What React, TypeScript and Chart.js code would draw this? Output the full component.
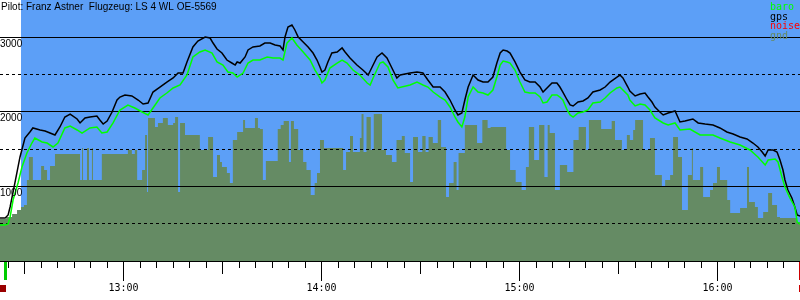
import React, { useEffect, useRef } from 'react';
import { Chart, registerables } from 'chart.js';

Chart.register(...registerables);

// ---- texts ----
const pilotTitle = 'Pilot: Franz Astner  Flugzeug: LS 4 WL OE-5569';
const seriesNames = ['baro', 'gps', 'noise', 'gnd'];
const seriesColors = ['#00ff00', '#000000', '#ff0000', '#658b64'];
const skyColor = '#5c9ff7';

// ---- time axis (minutes since midnight) ----
const timeMin = 742.64;
const timeMax = 985.06;
const tickStepMinutes = 5;
const skyStart = 749.0;
const takeoffTime = 744.3;
const landingTime = 985.0;
const startMarkTime = 743.5;

// ---- altitude axis (m) ----
const altMin = 0;
const altMax = 3500;
const gridLevels = [500, 1000, 1500, 2000, 2500, 3000];
const altLabels = [1000, 2000, 3000];

// ---- gps altitude ----
const gpsTimes = [
  742.6, 744.2, 745.1, 745.7, 747.2, 748.7, 750.2, 751.7, 752.6, 754.8,
  756.3, 757.8, 759.3, 760.8, 762.3, 763.9, 766.0, 766.9, 768.4, 769.9,
  772.0, 772.9, 773.9, 775.1, 776.6, 778.1, 779.0, 780.5, 782.6, 784.5,
  786.0, 787.5, 789.0, 791.1, 793.2, 795.1, 796.6, 798.1, 799.3, 801.1,
  802.6, 804.8, 806.3, 807.2, 808.4, 809.9, 811.4, 812.9, 813.9, 814.5,
  815.4, 816.9, 817.8, 819.3, 821.4, 822.9, 824.5, 826.0, 827.5, 828.4,
  829.0, 829.9, 831.1, 832.0, 833.0, 834.5, 836.0, 837.5, 838.7, 839.6,
  840.2, 841.1, 842.0, 843.2, 844.8, 846.3, 847.2, 848.7, 850.8, 852.6,
  854.2, 855.4, 856.9, 858.4, 859.9, 861.4, 862.9, 863.9, 866.9, 869.0,
  870.8, 872.3, 873.9, 876.0, 877.5, 879.0, 880.5, 881.4, 882.6, 883.5,
  884.5, 886.0, 887.5, 889.0, 890.5, 892.0, 893.2, 894.2, 895.1, 896.3,
  897.2, 898.7, 900.2, 901.7, 903.2, 904.8, 906.3, 907.2, 908.4, 909.9,
  911.4, 912.3, 913.2, 914.5, 915.4, 916.3, 917.8, 919.3, 920.8, 922.3,
  924.5, 926.0, 927.5, 929.6, 930.5, 931.4, 932.9, 933.5, 935.1, 936.6,
  938.1, 939.0, 940.2, 941.1, 942.6, 943.6, 945.1, 947.2, 948.7, 950.2,
  952.6, 954.2, 956.3, 958.7, 960.8, 962.9, 964.8, 966.9, 969.0, 970.8,
  972.3, 973.6, 974.5, 975.4, 976.9, 978.1, 979.0, 979.9, 980.5, 981.4,
  982.6, 983.5, 984.2, 985.1,
];
const gpsAlt = [
  577, 577, 617, 724, 1059, 1395, 1649, 1730, 1784, 1757,
  1743, 1716, 1690, 1797, 1931, 1971, 1904, 1851, 1918, 1931,
  1944, 1891, 1837, 1877, 1998, 2159, 2199, 2226, 2213, 2159,
  2105, 2119, 2266, 2333, 2400, 2454, 2521, 2521, 2669, 2870,
  2950, 3004, 2990, 2923, 2843, 2789, 2695, 2655, 2628, 2669,
  2655, 2736, 2830, 2870, 2883, 2923, 2923, 2897, 2883, 2830,
  3004, 3138, 3165, 3098, 3004, 2937, 2870, 2789, 2695, 2602,
  2534, 2561, 2669, 2789, 2803, 2857, 2803, 2722, 2628, 2561,
  2494, 2602, 2736, 2789, 2722, 2588, 2454, 2494, 2521, 2534,
  2521, 2427, 2333, 2333, 2266, 2159, 2025, 1958, 1985, 2159,
  2333, 2494, 2427, 2400, 2400, 2467, 2655, 2789, 2830, 2816,
  2789, 2669, 2534, 2427, 2400, 2400, 2333, 2266, 2320, 2387,
  2387, 2333, 2266, 2159, 2092, 2079, 2132, 2146, 2186, 2266,
  2293, 2333, 2400, 2467, 2494, 2454, 2333, 2280, 2213, 2239,
  2253, 2199, 2132, 2065, 1998, 1958, 1985, 2012, 1864, 1877,
  1904, 1851, 1837, 1824, 1784, 1730, 1703, 1663, 1636, 1582,
  1529, 1462, 1408, 1489, 1489, 1462, 1354, 1220, 1086, 952,
  845, 724, 617, 603,
];

// ---- barometric altitude ----
const baroTimes = [
  742.6, 744.2, 745.1, 745.7, 746.6, 748.1, 749.3, 750.8, 752.3, 753.2,
  755.4, 756.9, 758.7, 760.2, 762.3, 763.9, 766.0, 767.5, 769.9, 772.0,
  773.5, 775.1, 776.9, 779.0, 781.4, 783.5, 785.7, 787.5, 789.0, 791.1,
  793.2, 795.1, 797.2, 799.3, 801.1, 803.2, 804.8, 806.9, 808.4, 810.2,
  811.7, 813.2, 814.5, 816.3, 817.8, 819.3, 821.4, 823.6, 825.4, 827.5,
  828.4, 829.6, 831.1, 832.6, 834.5, 836.6, 838.1, 839.6, 840.2, 841.1,
  842.6, 844.8, 846.3, 847.8, 849.6, 851.7, 853.9, 854.8, 855.7, 857.8,
  858.7, 860.2, 861.7, 863.2, 866.9, 869.0, 870.8, 872.3, 873.9, 876.0,
  877.5, 879.0, 880.5, 881.4, 882.6, 883.5, 884.5, 886.0, 887.5, 889.0,
  890.5, 892.0, 893.2, 894.2, 895.1, 896.3, 897.2, 898.7, 900.2, 901.7,
  903.2, 904.8, 906.3, 907.2, 908.4, 909.9, 911.4, 912.3, 913.2, 914.5,
  915.4, 916.3, 917.8, 919.3, 920.8, 922.3, 924.5, 926.0, 927.5, 929.6,
  930.5, 931.4, 932.9, 933.5, 935.1, 936.6, 938.1, 939.6, 941.1, 943.6,
  945.1, 947.2, 948.7, 951.7, 954.8, 958.7, 960.8, 963.9, 966.9, 969.9,
  972.3, 974.5, 975.4, 977.5, 978.4, 979.6, 980.5, 982.0, 983.5, 984.2,
  985.1,
];
const baroAlt = [
  483, 483, 496, 590, 818, 1046, 1261, 1448, 1582, 1649,
  1596, 1582, 1529, 1582, 1784, 1810, 1757, 1716, 1784, 1797,
  1716, 1730, 1851, 2025, 2092, 2052, 1998, 1958, 2052, 2186,
  2253, 2320, 2360, 2494, 2736, 2803, 2830, 2789, 2669, 2628,
  2534, 2521, 2467, 2521, 2655, 2695, 2695, 2736, 2722, 2722,
  2695, 2923, 2990, 2897, 2803, 2695, 2561, 2454, 2387, 2427,
  2588, 2655, 2695, 2655, 2561, 2494, 2387, 2360, 2454, 2655,
  2669, 2602, 2427, 2320, 2360, 2400, 2360, 2333, 2266, 2199,
  2159, 2065, 1931, 1864, 1797, 1931, 2199, 2333, 2266, 2253,
  2226, 2293, 2467, 2628, 2682, 2669, 2655, 2561, 2400, 2266,
  2253, 2253, 2199, 2119, 2132, 2226, 2226, 2199, 2159, 2025,
  1958, 1931, 1985, 1998, 2025, 2119, 2132, 2186, 2253, 2320,
  2333, 2293, 2226, 2159, 2079, 2105, 2092, 2025, 1918, 1851,
  1824, 1851, 1757, 1770, 1690, 1690, 1649, 1596, 1556, 1489,
  1395, 1287, 1354, 1368, 1328, 1126, 992, 845, 724, 523,
  496,
];

// ---- engine noise (no samples above zero in this flight) ----
const noiseTimes: number[] = [];
const noiseLevel: number[] = [];

// ---- terrain elevation under the track (step values) ----
const gndTimes = [
  742.6, 744.5, 746.3, 747.8, 749.0, 749.9, 750.8, 751.4, 752.6, 755.1,
  756.0, 756.9, 757.8, 759.3, 766.9, 767.5, 767.8, 769.0, 769.6, 770.5,
  770.8, 773.5, 781.4, 782.6, 783.5, 784.2, 785.7, 786.6, 787.2, 787.5,
  789.6, 790.5, 792.0, 793.5, 795.1, 795.7, 796.6, 797.2, 798.7, 803.2,
  805.7, 807.2, 808.4, 809.3, 809.9, 811.4, 812.3, 813.2, 814.5, 816.3,
  816.9, 819.9, 820.8, 821.4, 822.3, 823.2, 826.8, 827.7, 828.6, 830.2,
  830.8, 831.7, 833.0, 834.5, 835.5, 836.8, 838.0, 838.7, 839.6, 840.8,
  846.6, 847.5, 848.7, 849.6, 851.7, 852.2, 852.8, 853.7, 855.0, 855.9,
  858.4, 859.6, 861.4, 862.8, 864.4, 865.3, 866.9, 867.8, 869.3, 870.6,
  871.6, 872.5, 873.8, 875.3, 876.3, 877.8, 878.7, 880.1, 881.0, 881.6,
  883.5, 887.2, 888.8, 890.4, 891.3, 896.0, 897.2, 898.9, 900.7, 902.0,
  902.9, 904.5, 906.0, 907.6, 908.6, 909.2, 910.8, 912.3, 914.5, 916.4,
  918.0, 920.2, 921.1, 924.8, 928.0, 929.0, 931.1, 932.6, 933.5, 934.5,
  935.1, 937.5, 939.6, 941.1, 943.2, 944.2, 945.7, 946.6, 948.1, 949.3,
  951.1, 952.3, 952.6, 954.8, 955.7, 957.8, 958.7, 959.9, 960.8, 963.0,
  963.9, 966.9, 969.0, 969.6, 971.4, 972.3, 973.9, 975.4, 976.6, 978.1,
  979.0, 984.2, 985.1,
];
const gndAlt = [
  563, 590, 630, 684, 724, 751, 1086, 1395, 1086, 1274,
  1220, 1086, 1274, 1435, 1086, 1515, 1086, 1515, 1086, 1515,
  1086, 1435, 1489, 1435, 1489, 1086, 1220, 1690, 925, 1918,
  1797, 1851, 1918, 1824, 1851, 1931, 925, 1851, 1690, 1489,
  1663, 1126, 1421, 1328, 1261, 1180, 1046, 1623, 1730, 1891,
  1784, 1918, 1784, 1770, 1086, 1341, 1770, 1824, 1877, 1328,
  1877, 1770, 1489, 1328, 1220, 885, 1046, 1180, 1623, 1515,
  1220, 1462, 1676, 1462, 1649, 1971, 1462, 1931, 1489, 1971,
  1489, 1421, 1328, 1623, 1676, 1448, 1059, 1663, 1462, 1676,
  1462, 1663, 1582, 1891, 1529, 858, 1046, 1328, 952, 1448,
  1824, 1582, 1891, 1784, 1797, 1489, 1220, 1059, 952, 1261,
  1797, 1354, 1824, 1126, 1824, 1716, 952, 1287, 1193, 1623,
  1797, 1489, 1891, 1770, 1877, 1623, 1489, 1690, 1623, 1757,
  1891, 1489, 1649, 1153, 992, 1086, 1153, 1663, 1395, 684,
  1153, 1515, 1086, 1261, 858, 952, 1046, 1261, 1086, 818,
  644, 711, 1261, 791, 724, 577, 657, 912, 751, 590,
  577, 523, 523,
];

const toPoints = (ts: number[], vs: number[]) => ts.map((t, i) => ({ x: t, y: vs[i] }));
const fmtTime = (m: number) => `${Math.floor(m / 60)}:${String(Math.round(m % 60)).padStart(2, '0')}`;

const SANS = '10px "Liberation Sans", Arial, sans-serif';
const MONO = '10px "DejaVu Sans Mono", monospace';

const barogramDecor = {
  id: 'barogramDecor',
  beforeDatasetsDraw(chart: any) {
    const { ctx, chartArea: a, scales } = chart;
    const xs = Math.round(scales.x.getPixelForValue(skyStart));
    ctx.save();
    ctx.fillStyle = skyColor;
    ctx.fillRect(xs, a.top, a.right - xs, a.bottom - a.top);
    ctx.restore();
  },
  afterDatasetDraw(chart: any, args: any) {
    if (args.index !== 3) return;
    const { ctx, chartArea: a, scales } = chart;
    ctx.save();
    ctx.strokeStyle = '#000000';
    ctx.lineWidth = 1;
    for (const v of gridLevels) {
      const py = Math.floor(scales.y.getPixelForValue(v)) + 0.5;
      ctx.setLineDash(v % 1000 === 0 ? [] : [3, 3]);
      ctx.beginPath();
      ctx.moveTo(a.left, py);
      ctx.lineTo(a.right, py);
      ctx.stroke();
    }
    ctx.restore();
  },
  afterDraw(chart: any) {
    const { ctx, chartArea: a, scales } = chart;
    const x = scales.x;
    const y = scales.y;
    ctx.save();
    // x axis line
    ctx.strokeStyle = '#000000';
    ctx.lineWidth = 1;
    ctx.setLineDash([]);
    ctx.beginPath();
    ctx.moveTo(0, a.bottom + 0.5);
    ctx.lineTo(chart.width, a.bottom + 0.5);
    ctx.stroke();
    // ticks + hour labels
    ctx.font = MONO;
    ctx.fillStyle = '#000000';
    ctx.textAlign = 'center';
    ctx.textBaseline = 'alphabetic';
    const first = Math.ceil(timeMin / tickStepMinutes) * tickStepMinutes;
    for (let m = first; m <= timeMax; m += tickStepMinutes) {
      const px = Math.round(x.getPixelForValue(m)) + 0.5;
      const len = m % 60 === 0 ? 19 : m % 30 === 0 ? 12 : 6;
      ctx.beginPath();
      ctx.moveTo(px, a.bottom + 1);
      ctx.lineTo(px, a.bottom + 1 + len);
      ctx.stroke();
      if (m % 60 === 0) ctx.fillText(fmtTime(m), px, a.bottom + 30);
    }
    // takeoff / landing markers
    const tk = x.getPixelForValue(takeoffTime);
    const ld = x.getPixelForValue(landingTime);
    const st = x.getPixelForValue(startMarkTime);
    ctx.fillStyle = '#00cc00';
    ctx.fillRect(Math.round(tk) - 1, a.bottom + 1, 3, 18);
    ctx.fillStyle = '#cc0000';
    ctx.fillRect(Math.round(ld) - 1, a.bottom + 1, 3, 18);
    ctx.fillRect(Math.round(ld) - 1, a.bottom + 24, 3, 7);
    ctx.fillStyle = '#990000';
    ctx.fillRect(Math.round(st) - 3, a.bottom + 24, 6, 7);
    // altitude labels
    ctx.font = SANS;
    ctx.textAlign = 'left';
    ctx.fillStyle = '#000000';
    for (const v of altLabels) {
      const py = Math.floor(y.getPixelForValue(v));
      ctx.fillText(String(v), a.left, py + 10);
    }
    // title
    ctx.fillText(pilotTitle, a.left + 1, a.top + 10);
    // legend
    ctx.font = MONO;
    chart.data.datasets.forEach((ds: any, i: number) => {
      ctx.fillStyle = seriesColors[i];
      ctx.fillText(ds.label, a.right - 30, a.top + 10 + i * 9.7);
    });
    ctx.restore();
  },
};

export default function App() {
  const canvasRef = useRef<HTMLCanvasElement | null>(null);

  useEffect(() => {
    if (!canvasRef.current) return;
    const chart = new Chart(canvasRef.current, {
      type: 'line',
      data: {
        datasets: [
          {
            label: seriesNames[0],
            data: toPoints(baroTimes, baroAlt),
            borderColor: seriesColors[0],
            borderWidth: 1.5,
            pointRadius: 0,
            fill: false,
            tension: 0,
          },
          {
            label: seriesNames[1],
            data: toPoints(gpsTimes, gpsAlt),
            borderColor: seriesColors[1],
            borderWidth: 1.5,
            pointRadius: 0,
            fill: false,
            tension: 0,
          },
          {
            label: seriesNames[2],
            data: toPoints(noiseTimes, noiseLevel),
            borderColor: seriesColors[2],
            borderWidth: 1.5,
            pointRadius: 0,
            fill: false,
          },
          {
            label: seriesNames[3],
            data: toPoints(gndTimes, gndAlt),
            borderColor: seriesColors[3],
            backgroundColor: seriesColors[3],
            borderWidth: 0,
            pointRadius: 0,
            fill: 'origin',
            stepped: true,
          },
        ],
      },
      options: {
        animation: false,
        responsive: false,
        devicePixelRatio: 1,
        events: [],
        layout: { padding: { left: 0, right: 0, top: 0, bottom: 39 } },
        plugins: {
          legend: { display: false },
          tooltip: { enabled: false },
          title: { display: false },
        },
        scales: {
          x: { type: 'linear', min: timeMin, max: timeMax, display: false },
          y: { type: 'linear', min: altMin, max: altMax, display: false },
        },
      },
      plugins: [barogramDecor],
    });
    return () => chart.destroy();
  }, []);

  return (
    <div style={{ position: 'fixed', left: 0, top: 0, width: 800, height: 300, background: '#ffffff' }}>
      <canvas ref={canvasRef} width={800} height={300} style={{ display: 'block' }} />
    </div>
  );
}
